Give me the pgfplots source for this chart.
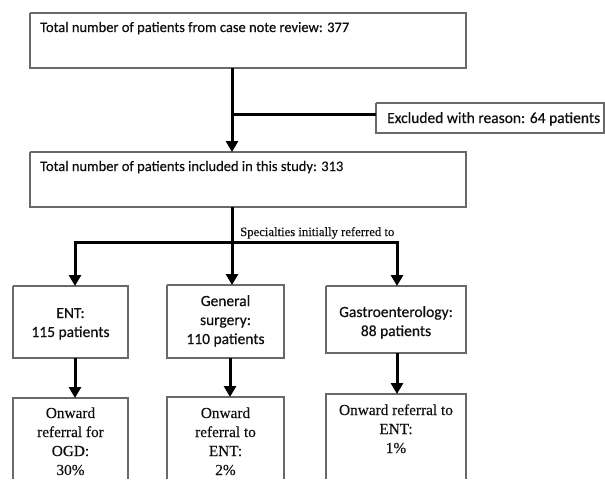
\documentclass[border=0pt]{standalone}
\usepackage{pgfplots}
\pgfplotsset{compat=1.18}
\usepackage{fontspec}
\setmainfont{Liberation Serif}[FakeBold=0.3]
\newfontfamily\calfont{Carlito}[FakeBold=0.5]
\usetikzlibrary{arrows.meta}
\definecolor{boxgray}{RGB}{105,105,105}
\definecolor{txt}{RGB}{15,15,15}
\begin{document}
\begin{tikzpicture}
\begin{axis}[width=605pt,height=479pt,scale only axis,
  xmin=0,xmax=605,ymin=0,ymax=479,y dir=reverse,
  axis lines=none,clip=false,
  every axis plot/.append style={line join=miter}]
% invisible frame to fix the picture size
\addplot[draw=none] coordinates {(0,0) (605,479)};
\draw[draw=none] (axis cs:0,0) rectangle (axis cs:605,479);
% boxes
\pgfplotsset{bx/.style={draw=boxgray,line width=1.2pt,mark=none}}
\addplot[bx] coordinates {(30,13) (466,13) (466,68) (30,68) (30,13)};
\addplot[bx] coordinates {(376,103) (604,103) (604,133) (376,133) (376,103)};
\addplot[bx] coordinates {(30,152) (466,152) (466,207) (30,207) (30,152)};
\addplot[bx] coordinates {(13,286) (128,286) (128,358) (13,358) (13,286)};
\addplot[bx] coordinates {(167,285) (284,285) (284,358) (167,358) (167,285)};
\addplot[bx] coordinates {(326,286) (466,286) (466,353) (326,353) (326,286)};
\addplot[bx] coordinates {(13,479) (13,398) (128,398) (128,479)};
\addplot[bx] coordinates {(167,479) (167,397) (284,397) (284,479)};
\addplot[bx] coordinates {(326,479) (326,394) (466,394) (466,479)};
% connectors
\pgfplotsset{ln/.style={black,line width=3pt,mark=none},
  ar/.style={black,line width=3pt,mark=none,-{Triangle[width=12pt,length=11pt]}}}
\addplot[ar] coordinates {(232,68) (232,152)};
\addplot[ln] coordinates {(232,114) (376,114)};
\addplot[ln] coordinates {(232,207) (232,242)};
\addplot[ln] coordinates {(73.5,242) (398.5,242)};
\addplot[ar] coordinates {(75,242) (75,286)};
\addplot[ar] coordinates {(232,242) (232,285)};
\addplot[ar] coordinates {(397,242) (397,286)};
\addplot[ar] coordinates {(75,358) (75,398)};
\addplot[ar] coordinates {(230,358) (230,397)};
\addplot[ar] coordinates {(397,353) (397,394)};
% texts
\tikzset{st/.style={font=\calfont\fontsize{15.5}{18}\selectfont,text=txt,inner sep=0pt},
  rt/.style={font=\fontsize{15.3}{18}\selectfont,text=txt,inner sep=0pt}}
\node[st,anchor=base west,font=\calfont\fontsize{14.5}{17}\selectfont] at (axis cs:40,32) {Total number of patients from case note review: 377};
\node[st,anchor=base west,font=\calfont\fontsize{14.5}{17}\selectfont] at (axis cs:40,171) {Total number of patients included in this study: 313};
\node[st,anchor=base west] at (axis cs:387,123) {Excluded with reason: 64 patients};
\node[anchor=base west,inner sep=0pt,text=txt,font=\fontsize{12.7}{15}\selectfont] at (axis cs:240,236) {Specialties initially referred to};
% ENT box
\node[st,anchor=base] at (axis cs:70.5,318) {ENT:};
\node[st,anchor=base] at (axis cs:70.5,337) {115 patients};
% General surgery box
\node[st,anchor=base] at (axis cs:225.5,306) {General};
\node[st,anchor=base] at (axis cs:225.5,325) {surgery:};
\node[st,anchor=base] at (axis cs:225.5,344) {110 patients};
% Gastro box
\node[st,anchor=base] at (axis cs:396,317) {Gastroenterology:};
\node[st,anchor=base] at (axis cs:396,336) {88 patients};
% bottom boxes
\node[rt,anchor=base] at (axis cs:70.5,418) {Onward};
\node[rt,anchor=base] at (axis cs:70.5,437) {referral for};
\node[rt,anchor=base] at (axis cs:70.5,456) {OGD:};
\node[rt,anchor=base] at (axis cs:70.5,475) {30\%};
\node[rt,anchor=base] at (axis cs:225.5,418) {Onward};
\node[rt,anchor=base] at (axis cs:225.5,437) {referral to};
\node[rt,anchor=base] at (axis cs:225.5,456) {ENT:};
\node[rt,anchor=base] at (axis cs:225.5,475) {2\%};
\node[rt,anchor=base] at (axis cs:396,415) {Onward referral to};
\node[rt,anchor=base] at (axis cs:396,434) {ENT:};
\node[rt,anchor=base] at (axis cs:396,453) {1\%};
\end{axis}
\end{tikzpicture}
\end{document}
